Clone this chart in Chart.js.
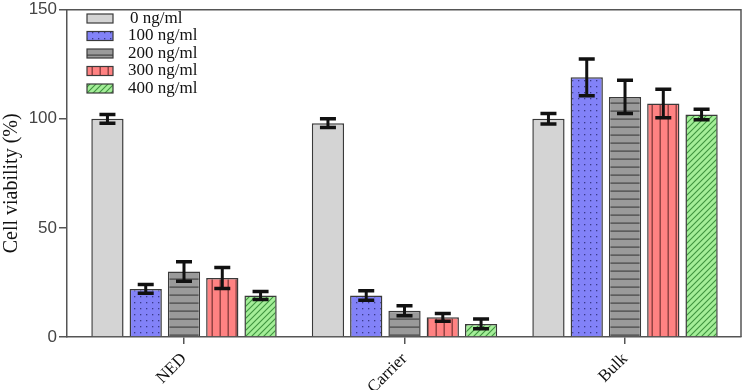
<!DOCTYPE html>
<html>
<head>
<meta charset="utf-8">
<script src="https://cdn.jsdelivr.net/npm/chart.js@4/dist/chart.umd.min.js"></script>
<style>
  html, body { margin: 0; padding: 0; background: #fff; }
  #wrap { width: 744px; height: 390px; }
</style>
</head>
<body>
<div id="wrap"><canvas id="barChart" width="744" height="390"></canvas></div>
<script>
// data
const groups = ['NED', 'Carrier', 'Bulk'];
const doses = ['0 ng/ml', '100 ng/ml', '200 ng/ml', '300 ng/ml', '400 ng/ml'];
const dose0 = [100, 98, 100];
const dose100 = [22, 19, 119];
const dose200 = [30, 12, 110];
const dose300 = [27, 9, 107];
const dose400 = [19, 6, 102];
const err0 = [2, 2, 2.4];
const err100 = [2, 2.2, 8.4];
const err200 = [4.5, 2.3, 7.6];
const err300 = [4.8, 1.8, 6.5];
const err400 = [1.8, 2.2, 2.4];
const yTicks = [0, 50, 100, 150];

// fill patterns
function makePattern(size, bg, draw) {
    const c = document.createElement('canvas');
    c.width = size; c.height = size;
    const g = c.getContext('2d');
    g.fillStyle = bg;
    g.fillRect(0, 0, size, size);
    draw(g);
    return g.createPattern(c, 'repeat');
}
const plainFill = '#d4d4d4';
const dotFill = makePattern(6, '#8282f8', g => {
    g.fillStyle = '#3a3a8a';
    g.fillRect(2, 2, 1.3, 1.3);
});
const hLineFill = makePattern(8, '#9a9a9a', g => {
    g.fillStyle = '#444';
    g.fillRect(0, 6.5, 8, 1.2);
});
const vLineFill = makePattern(8, '#ff8282', g => {
    g.fillStyle = '#8a3e3e';
    g.fillRect(3.5, 0, 1.4, 8);
});
const hatchFill = makePattern(6, '#a4ee98', g => {
    g.strokeStyle = '#3f933f';
    g.lineWidth = 1.1;
    g.beginPath();
    g.moveTo(0, 6); g.lineTo(6, 0);
    g.moveTo(-1, 1); g.lineTo(1, -1);
    g.moveTo(5, 7); g.lineTo(7, 5);
    g.stroke();
});

const fills = [plainFill, dotFill, hLineFill, vLineFill, hatchFill];
const values = [dose0, dose100, dose200, dose300, dose400];
const errors = [err0, err100, err200, err300, err400];

// x is a linear index axis so the groups can sit a bit in from the axis ends
const data = {
    datasets: doses.map((d, i) => ({
        label: d,
        data: values[i].map((v, j) => ({ x: j, y: v })),
        backgroundColor: fills[i],
        borderColor: '#3a3a3a',
        borderWidth: 1.5,
        categoryPercentage: 0.868,
        barPercentage: 0.843,
    }))
};

// error bars, drawn from the y scale
const errorBars = {
    id: 'errorBars',
    afterDatasetsDraw(chart) {
        const ctx = chart.ctx;
        const y = chart.scales.y;
        ctx.save();
        ctx.strokeStyle = '#111';
        chart.data.datasets.forEach((ds, i) => {
            chart.getDatasetMeta(i).data.forEach((bar, j) => {
                const v = values[i][j], e = errors[i][j];
                const top = y.getPixelForValue(v + e);
                const bot = y.getPixelForValue(v - e);
                ctx.lineWidth = 3;
                ctx.beginPath();
                ctx.moveTo(bar.x, top); ctx.lineTo(bar.x, bot);
                ctx.stroke();
                ctx.lineWidth = 3.5;
                ctx.beginPath();
                ctx.moveTo(bar.x - 8, top); ctx.lineTo(bar.x + 8, top);
                ctx.moveTo(bar.x - 8, bot); ctx.lineTo(bar.x + 8, bot);
                ctx.stroke();
            });
        });
        ctx.restore();
    }
};

// frame on top/right + legend inside the plot
const frameLegend = {
    id: 'frameLegend',
    afterDraw(chart) {
        const ctx = chart.ctx;
        const a = chart.chartArea;
        ctx.save();
        ctx.strokeStyle = '#555';
        ctx.lineWidth = 1.5;
        ctx.beginPath();
        ctx.moveTo(a.left, a.top); ctx.lineTo(a.right, a.top); ctx.lineTo(a.right, a.bottom);
        ctx.stroke();

        ctx.font = '17px "Liberation Serif", "Times New Roman", serif';
        ctx.textBaseline = 'middle';
        doses.forEach((d, i) => {
            const cy = 18.5 + i * 17.5;
            ctx.fillStyle = fills[i];
            ctx.fillRect(87, cy - 4.5, 26, 9);
            ctx.strokeStyle = '#3a3a3a';
            ctx.lineWidth = 1.2;
            ctx.strokeRect(87, cy - 4.5, 26, 9);
            ctx.fillStyle = '#111';
            ctx.fillText(d, i === 0 ? 130 : 128, cy);
        });
        ctx.restore();
    }
};

const options = {
    responsive: false,
    animation: false,
    layout: {
        padding: { top: 0, right: 3, left: 0, bottom: 0 }
    },
    scales: {
        x: {
            type: 'linear',
            min: -0.5306,
            max: 2.526,
            offset: false,
            afterBuildTicks(scale) { scale.ticks = groups.map((g, j) => ({ value: j })); },
            grid: { offset: false, drawOnChartArea: false, drawTicks: true, tickLength: 7, color: '#555', lineWidth: 1.5 },
            border: { display: true, color: '#555', width: 1.5 },
            ticks: {
                maxRotation: 45, minRotation: 45,
                color: '#111',
                padding: 5,
                callback: v => groups[v],
                font: { family: '"Liberation Serif", "Times New Roman", serif', size: 17 }
            },
            afterFit(scale) { scale.height = 53; }
        },
        y: {
            min: 0, max: 150,
            afterBuildTicks(scale) { scale.ticks = yTicks.map(v => ({ value: v })); },
            grid: { drawOnChartArea: false, drawTicks: true, tickLength: 8, color: '#555', lineWidth: 1.5 },
            border: { display: true, color: '#555', width: 1.5 },
            ticks: {
                color: '#444',
                padding: 2,
                font: { family: '"Liberation Sans", Arial, sans-serif', size: 17, lineHeight: 0.9 }
            },
            title: {
                display: true,
                text: 'Cell viability (%)    ',
                color: '#111',
                padding: { top: 0, bottom: 0 },
                font: { family: '"Liberation Serif", "Times New Roman", serif', size: 20 }
            },
            afterFit(scale) { scale.width = 67; }
        }
    },
    plugins: {
        legend: { display: false },
        tooltip: { enabled: false }
    }
};

new Chart(document.getElementById('barChart'), {
    type: 'bar',
    data: data,
    options: options,
    plugins: [errorBars, frameLegend]
});
</script>
</body>
</html>
